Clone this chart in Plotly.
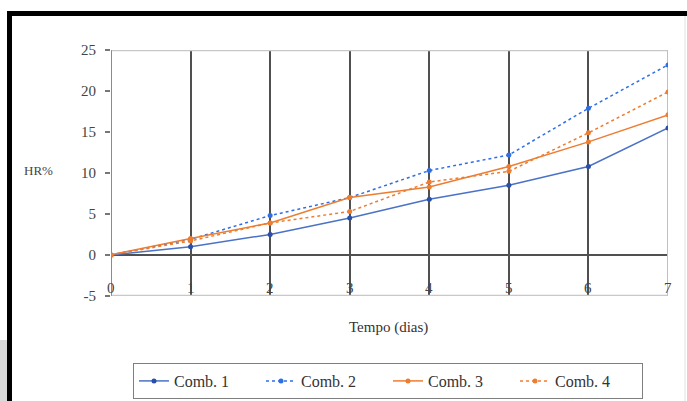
import plotly.graph_objects as go

dias = [0, 1, 2, 3, 4, 5, 6, 7]
comb1 = [0, 1.0, 2.5, 4.5, 6.8, 8.5, 10.8, 15.5]
comb2 = [0, 1.9, 4.8, 7.0, 10.3, 12.2, 17.9, 23.2]
comb3 = [0, 2.0, 3.9, 7.0, 8.3, 10.8, 13.8, 17.1]
comb4 = [0, 1.7, 3.9, 5.3, 8.9, 10.2, 14.9, 19.9]
series_names = ["Comb. 1", "Comb. 2", "Comb. 3", "Comb. 4"]
y_ticks = [-5, 0, 5, 10, 15, 20, 25]

W, H = 687, 401
L, R, T, B = 111, 19, 50, 105
PW, PH = W - L - R, H - T - B

def px(x):
    return (x - L) / PW

def py(y):
    return (H - B - y) / PH

FONT = "Liberation Serif"

fig = go.Figure()
styles = [
    dict(color="#4a72c6", dash="solid", mcolor="#2a4fa8"),
    dict(color="#2f6fe6", dash="dot", mcolor="#2f6fe6"),
    dict(color="#ed7d31", dash="solid", mcolor="#ed7d31"),
    dict(color="#ed7d31", dash="dot", mcolor="#ed7d31"),
]
for name, ys, st in zip(series_names, [comb1, comb2, comb3, comb4], styles):
    fig.add_trace(go.Scatter(
        x=dias, y=ys, name=name, mode="lines+markers",
        line=dict(color=st["color"], width=1.5, dash=st["dash"]),
        marker=dict(color=st["mcolor"], size=5, symbol="circle"),
    ))

shapes = [
    dict(type="line", xref="x", yref="y", x0=0, x1=7, y0=25, y1=25, line=dict(color="#c8c8c8", width=2), layer="between"),
    dict(type="line", xref="x", yref="y", x0=0, x1=7, y0=-5, y1=-5, line=dict(color="#c8c8c8", width=2), layer="between"),
    dict(type="line", xref="x", yref="y", x0=7, x1=7, y0=-5, y1=25, line=dict(color="#c0c0c0", width=2), layer="between"),
    dict(type="line", xref="x", yref="y", x0=0, x1=0, y0=-5, y1=25, line=dict(color="#8a8a8a", width=2), layer="between"),
    dict(type="rect", xref="paper", yref="paper", x0=px(7), x1=px(W), y0=py(11), y1=py(16), fillcolor="black", line=dict(width=0)),
    dict(type="rect", xref="paper", yref="paper", x0=px(7), x1=px(12), y0=py(11), y1=py(H), fillcolor="black", line=dict(width=0)),
    dict(type="rect", xref="paper", yref="paper", x0=px(0), x1=px(7), y0=py(340), y1=py(H), fillcolor="#d9d9d9", line=dict(width=0)),
    dict(type="line", xref="paper", yref="paper", x0=px(685), x1=px(685), y0=py(16), y1=py(H), line=dict(color="#e0e0e0", width=1)),
]

annotations = [
    dict(text="Tempo (dias)", xref="paper", yref="paper", x=px(388), y=py(327),
         showarrow=False, font=dict(family=FONT, size=15, color="#333"), xanchor="center", yanchor="middle"),
    dict(text="HR%", xref="paper", yref="paper", x=px(38), y=py(170),
         showarrow=False, font=dict(family=FONT, size=13, color="#444"), xanchor="center", yanchor="middle"),
]
for d in dias:
    annotations.append(dict(text=str(d), xref="x", yref="y", x=d, y=-5, yanchor="bottom", xanchor="center",
                            showarrow=False, font=dict(family=FONT, size=15, color="#444"), yshift=-2))

fig.update_layout(
    width=W, height=H,
    margin=dict(l=L, r=R, t=T, b=B, autoexpand=False),
    paper_bgcolor="white", plot_bgcolor="white",
    font=dict(family=FONT, size=15, color="#444"),
    shapes=shapes,
    showlegend=True,
    legend=dict(
        orientation="h", x=px(388), xanchor="center", y=py(363), yanchor="top",
        bordercolor="#7f7f7f", borderwidth=1, font=dict(family=FONT, size=16, color="#333"),
        entrywidth=82, itemwidth=30, tracegroupgap=0,
    ),
    annotations=annotations,
)
fig.update_xaxes(
    range=[0, 7], tickmode="array", tickvals=dias, showticklabels=False,
    showgrid=True, gridcolor="#505050", gridwidth=1.5, zeroline=False, showline=False, ticks="",
)
fig.update_yaxes(
    range=[-5.02, 25.02], tickmode="array", tickvals=y_ticks, ticktext=[str(v) for v in y_ticks],
    showgrid=False, zeroline=True, zerolinecolor="#505050", zerolinewidth=1.5, showline=False,
    ticks="outside", ticklen=5, tickcolor="#777", tickwidth=1.5, ticklabelstandoff=6,
    tickfont=dict(family=FONT, size=15, color="#444"),
)

fig.write_html("out.html")
